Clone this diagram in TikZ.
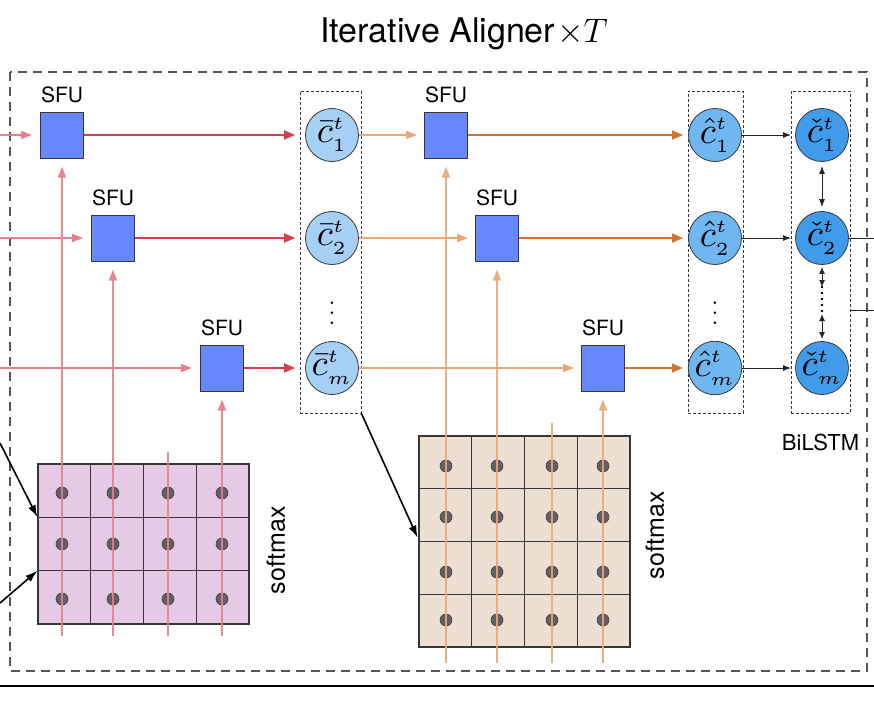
\RequirePackage{fix-cm}
\documentclass[tikz,border=0pt]{standalone}
\usepackage{fontspec}
\setsansfont{TeX Gyre Heros}
\usetikzlibrary{positioning}
\usetikzlibrary{calc}
\usetikzlibrary{arrows.meta}
\definecolor{cb}{RGB}{55,55,55}
\definecolor{cframe}{RGB}{85,85,85}
\definecolor{csfu}{RGB}{102,136,252}
\definecolor{cred}{RGB}{214,62,80}
\definecolor{credl}{RGB}{230,128,140}
\definecolor{cor}{RGB}{214,116,42}
\definecolor{corl}{RGB}{234,168,118}
\definecolor{cpur}{RGB}{228,202,228}
\definecolor{cbrn}{RGB}{236,224,210}
\definecolor{cdot}{RGB}{100,95,100}
\definecolor{cbar}{RGB}{166,208,246}
\definecolor{chat}{RGB}{112,182,240}
\definecolor{cchk}{RGB}{64,156,234}
\newcommand{\vecsym}[3]{\scalebox{3.7}{$#1{c}^{\scriptscriptstyle #2}_{\scriptscriptstyle #3}$}}
\tikzstyle{title}=[font=\sffamily\fontsize{34}{40}\selectfont, anchor=base]
\tikzstyle{sfu}=[draw=cb, fill=csfu, line width=1pt, minimum width=43pt, minimum height=46pt, inner sep=0pt]
\tikzstyle{sfulabel}=[font=\sffamily\fontsize{21}{25}\selectfont, label distance=5pt]
\tikzstyle{cell}=[circle, draw=cb, line width=0.8pt, minimum size=53pt, inner sep=0pt]
\tikzstyle{group}=[draw=cb, dash pattern=on 3pt off 2pt, line width=0.8pt, inner sep=0pt]
\tikzstyle{vdot}=[inner sep=0pt]
\tikzstyle{attmat}=[draw=cb, line width=1.2pt, inner sep=0pt, minimum width=211pt]
\tikzstyle{gridline}=[cb, line width=0.8pt]
\tikzstyle{dotn}=[circle, draw=black!75, fill=cdot, line width=0.6pt, minimum size=12pt, inner sep=0pt]
\tikzstyle{side}=[font=\sffamily\fontsize{25}{30}\selectfont, rotate=90]
\tikzstyle{redin}=[credl, line width=1.5pt, -{Triangle[length=11pt,width=8pt]}, shorten >=8pt]
\tikzstyle{redout}=[cred, line width=2pt, -{Triangle[length=11pt,width=9pt]}, shorten >=10pt]
\tikzstyle{orin}=[corl, line width=1.5pt, -{Triangle[length=11pt,width=8pt]}, shorten >=7pt]
\tikzstyle{orout}=[cor, line width=2pt, -{Triangle[length=11pt,width=9pt]}, shorten >=5pt]
\tikzstyle{redup}=[credl, line width=1.5pt, opacity=0.9]
\tikzstyle{orup}=[corl, line width=1.5pt, opacity=0.9]
\tikzstyle{arrowk}=[black!85, line width=1pt, -{Latex[length=8pt,width=6pt]}, shorten >=4pt]
\tikzstyle{arrowb}=[black, line width=1.6pt, -{Latex[length=12pt,width=8pt]}]

\begin{document}
\begin{tikzpicture}[x=1pt, y=-1pt]
  \useasboundingbox (0,0) rectangle (874,716);
  \node [title] (title) at (464,42) {Iterative Aligner\hspace{2pt}$\times T$};
  \draw [cframe, line width=1.3pt, dash pattern=on 9pt off 6pt] (10,72) rectangle (867,671);
  \draw [black, line width=2pt] (0,686) -- (874,686);

  % groups of vectors
  \node [group, minimum width=61pt, minimum height=322pt] (box-a) at (330.5,252) {};
  \node [group, minimum width=55pt, minimum height=322pt] (box-b) at (715.5,252) {};
  \node [group, minimum width=59pt, minimum height=322pt] (box-c) at (820.5,252) {};
  \node [vdot] (vd-a) at (332,306) {\scalebox{2.4}{$\vdots$}};
  \node [vdot] (vd-b) at (715,306) {\scalebox{2.4}{$\vdots$}};
  \node [sfulabel, below=17pt of box-c.south, anchor=north, font=\sffamily\fontsize{22}{26}\selectfont] (bilstm) {BiLSTM};

  \foreach \y/\s [count=\i] in {135/1, 238/2, 368/m}{
    \node [cell, fill=cbar] (cbar-\i) at (332,\y) {\vecsym{\bar}{t}{\s}};
    \node [cell, fill=chat] (chat-\i) at (715,\y) {\vecsym{\hat}{t}{\s}};
    \node [cell, fill=cchk] (cchk-\i) at (822,\y) {\vecsym{\check}{t}{\s}};
    \draw [arrowk] (chat-\i) -- (cchk-\i);
  }

  % SFU units
  \foreach \xa/\xb/\y [count=\i] in {62/446/135, 113/497/238, 222/603/368}{
    \node [sfu, label={[sfulabel]above:SFU}] (sfu-a-\i) at (\xa,\y) {};
    \node [sfu, label={[sfulabel]above:SFU}] (sfu-b-\i) at (\xb,\y) {};
    \coordinate (in-\i) at (0,\y);
    \draw [redin] (in-\i) -- (sfu-a-\i);
    \draw [redout] (sfu-a-\i) -- (cbar-\i);
    \draw [orin] (cbar-\i) -- (sfu-b-\i);
    \draw [orout] (sfu-b-\i) -- (chat-\i);
  }

  % BiLSTM links
  \coordinate (dd-1) at (822,287);
  \coordinate (dd-2) at (822,314);
  \draw [arrowk, {Latex[length=8pt,width=6pt]}-{Latex[length=8pt,width=6pt]}, shorten <=4pt] (cchk-1) -- (cchk-2);
  \draw [arrowk, {Latex[length=7pt,width=6pt]}-{Latex[length=7pt,width=6pt]}, shorten <=2pt, shorten >=0pt] (cchk-2) -- (dd-1);
  \draw [black, line width=2.6pt, line cap=round, dash pattern=on 0pt off 6pt] (dd-1) -- (dd-2);
  \draw [arrowk, {Latex[length=7pt,width=6pt]}-{Latex[length=7pt,width=6pt]}, shorten >=2pt] (dd-2) -- (cchk-3);
  \coordinate (out-1) at (874,238);
  \coordinate (out-2) at (874,310);
  \draw [black!85, line width=1pt] (cchk-2) -- (out-1);
  \draw [black!85, line width=1pt] (box-c.east |- out-2) -- (out-2);

  % first attention matrix
  \node [attmat, fill=cpur, minimum height=160pt] (att-a) at (143.5,544) {};
  \foreach \x in {90.75,143.5,196.25}
    \draw [gridline] (\x,464) -- (\x,624);
  \foreach \y in {517.3,570.7}
    \draw [gridline] (38,\y) -- (249,\y);
  \foreach \x [count=\i] in {62,113,168,222}
    \foreach \y [count=\j] in {493,544,599}
      \node [dotn] (dot-a-\i-\j) at (\x,\y) {};
  \foreach \x/\s [count=\i] in {62/1, 113/2, 222/3}{
    \coordinate (col-a-\i) at (\x,636);
    \draw [redup, -{Triangle[length=11pt,width=8pt]}, shorten >=8pt] (col-a-\i) -- (sfu-a-\s);
  }
  \coordinate (col-a-4) at (168,636);
  \coordinate (top-a-4) at (168,452);
  \draw [redup] (col-a-4) -- (top-a-4);
  \node [side] (soft-a) at (276,550) {softmax};
  \coordinate (ext-1) at (0,443);
  \coordinate (ext-2) at (0,603);
  \draw [arrowb] (ext-1) -- ($(att-a.north west)!1/3!(att-a.south west)$);
  \draw [arrowb] (ext-2) -- ($(att-a.north west)!2/3!(att-a.south west)$);

  % second attention matrix
  \node [attmat, fill=cbrn, minimum height=211pt] (att-b) at (524.5,541.5) {};
  \foreach \x in {471.75,524.5,577.25}
    \draw [gridline] (\x,436) -- (\x,647);
  \foreach \y in {488.75,541.5,594.25}
    \draw [gridline] (419,\y) -- (630,\y);
  \foreach \x [count=\i] in {446,497,552,603}
    \foreach \y [count=\j] in {466,517,572,620}
      \node [dotn] (dot-b-\i-\j) at (\x,\y) {};
  \foreach \x/\s [count=\i] in {446/1, 497/2, 603/3}{
    \coordinate (col-b-\i) at (\x,663);
    \draw [orup, -{Triangle[length=11pt,width=8pt]}, shorten >=8pt] (col-b-\i) -- (sfu-b-\s);
  }
  \coordinate (col-b-4) at (552,663);
  \coordinate (top-b-4) at (552,423);
  \draw [orup] (col-b-4) -- (top-b-4);
  \node [side] (soft-b) at (655,535) {softmax};
  \draw [arrowb, shorten >=2pt] (box-a.south east) -- ($(att-b.north west)!0.49!(att-b.south west)$);
\end{tikzpicture}
\end{document}
